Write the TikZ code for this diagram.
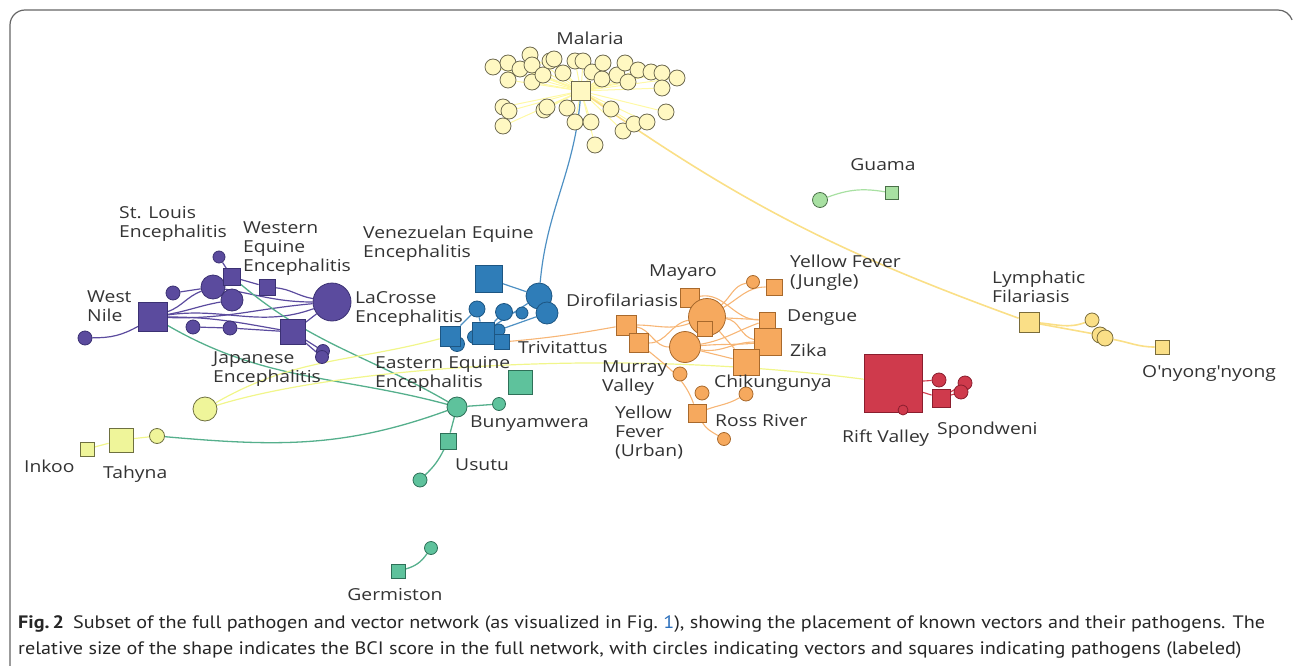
\documentclass[tikz,border=0pt]{standalone}
\usepackage{fontspec}
\newfontfamily\lblfont[FakeStretch=1.17]{Open Sans}
\newfontfamily\capfont[FakeStretch=1.12]{PT Sans}
\usetikzlibrary{positioning}
\pgfdeclarelayer{background}
\pgfsetlayers{background,main}
\definecolor{purp}{HTML}{5B4B9E}
\definecolor{purpd}{HTML}{3B3173}
\definecolor{blu}{HTML}{2F7DB8}
\definecolor{blud}{HTML}{1D5683}
\definecolor{orng}{HTML}{F6A95E}
\definecolor{orngd}{HTML}{A8692C}
\definecolor{rd}{HTML}{CF3A4C}
\definecolor{rdd}{HTML}{8A1E2E}
\definecolor{malf}{HTML}{FFF8C2}
\definecolor{mald}{HTML}{6E6A50}
\definecolor{lymf}{HTML}{FADF87}
\definecolor{lymd}{HTML}{7A6C3A}
\definecolor{teal}{HTML}{5EC29C}
\definecolor{teald}{HTML}{2E7058}
\definecolor{tahf}{HTML}{EFF59A}
\definecolor{tahd}{HTML}{6E7040}
\definecolor{guaf}{HTML}{A8E0A2}
\definecolor{guad}{HTML}{4A7048}
\definecolor{lbltext}{HTML}{333333}
\definecolor{linkblue}{HTML}{2A6EBB}

\begin{document}
\begin{tikzpicture}[x=1pt,y=-1pt,
    vec/.style={circle,draw,inner sep=0pt,line width=0.8pt},
    pat/.style={rectangle,draw,inner sep=0pt,line width=0.8pt},
    lbl/.style={font=\lblfont\fontsize{16.5}{19}\selectfont,text=lbltext,align=left,inner sep=0pt},
    pu/.style={fill=purp,draw=purpd},
    bl/.style={fill=blu,draw=blud},
    or/.style={fill=orng,draw=orngd},
    re/.style={fill=rd,draw=rdd},
    ma/.style={fill=malf,draw=mald},
    ly/.style={fill=lymf,draw=lymd},
    te/.style={fill=teal,draw=teald},
    ta/.style={fill=tahf,draw=tahd},
    gu/.style={fill=guaf,draw=guad},
    pe/.style={draw=purp,line width=1.2pt},
    be/.style={draw=blu!85,line width=1.2pt},
    oe/.style={draw=orng!85,line width=1.1pt},
    re edge/.style={draw=rd,line width=1.1pt},
    me/.style={draw=malf!85!yellow,line width=1pt},
    le/.style={draw=lymf,line width=1.6pt},
    tee/.style={draw=teal!90!black,line width=1.3pt},
    tae/.style={draw=tahf!90!yellow,line width=1.2pt},
    ge/.style={draw=guaf,line width=1.2pt}]

  \useasboundingbox (0,0) rectangle (1295,666);
  \draw[gray!80!black,line width=1.2pt] (10,700) -- (10,25) arc(180:270:15) -- (1278,10) arc(-90:-20:15);

  % malaria
  \node[pat,ma,minimum size=19pt] (malaria) at (581,91) {};
  \foreach \x/\y [count=\i] in {493/67,508/63,508/80,520/69,530/55,532/65,532/82,543/75,550/61,554/59,
      563/73,575/61,583/61,592/72,602/79,603/63,617/75,625/63,628/82,638/70,651/72,662/73,662/88,677/78,
      503/107,509/111,503/126,544/110,547/107,567/108,575/122,591/122,611/109,623/131,634/124,647/122,666/112,595/145}
    \node[vec,ma,minimum size=16pt] (m\i) at (\x,\y) {};
  \node[lbl] (malarialbl) at (590,38) {Malaria};

  % guama
  \node[vec,gu,minimum size=15pt] (guac) at (820,200) {};
  \node[pat,gu,minimum size=13pt] (guama) at (892,193) {};
  \node[lbl] (guamalbl) at (883,165) {Guama};

  % purple
  \node[pat,pu,minimum size=29pt] (wn) at (153,317) {};
  \node[vec,pu,minimum size=14pt] (p1) at (85,338) {};
  \node[vec,pu,minimum size=14pt] (p2) at (173,293) {};
  \node[vec,pu,minimum size=24pt] (p3) at (213,287) {};
  \node[vec,pu,minimum size=22pt] (p4) at (232,300) {};
  \node[vec,pu,minimum size=12pt] (p5) at (219,257) {};
  \node[pat,pu,minimum size=17pt] (sle) at (232,277) {};
  \node[pat,pu,minimum size=16pt] (wee) at (267,287) {};
  \node[vec,pu,minimum size=38pt] (lac) at (332,302) {};
  \node[pat,pu,minimum size=25pt] (jap) at (293,332) {};
  \node[vec,pu,minimum size=14pt] (p6) at (193,327) {};
  \node[vec,pu,minimum size=14pt] (p7) at (230,328) {};
  \node[vec,pu,minimum size=13pt] (p8) at (323,351) {};
  \node[vec,pu,minimum size=13pt] (p9) at (322,357) {};
  \node[lbl,anchor=north west] (slelbl) at (119,206) {St. Louis\\Encephalitis};
  \node[lbl,anchor=north west] (weelbl) at (243,222) {Western\\Equine\\Encephalitis};
  \node[lbl,anchor=north west] (wnlbl) at (87,291) {West\\Nile};
  \node[lbl,anchor=north west] (laclbl) at (355,291) {LaCrosse\\Encephalitis};
  \node[lbl,anchor=north west] (japlbl) at (213,352) {Japanese\\Encephalitis};

  % blue
  \node[pat,bl,minimum size=27pt] (vee) at (489,279) {};
  \node[vec,bl,minimum size=26pt] (b1) at (539,296) {};
  \node[vec,bl,minimum size=22pt] (b2) at (547,313) {};
  \node[vec,bl,minimum size=16pt] (b3) at (477,309) {};
  \node[vec,bl,minimum size=17pt] (b4) at (504,312) {};
  \node[vec,bl,minimum size=12pt] (b5) at (522,313) {};
  \node[vec,bl,minimum size=15pt] (b6) at (457,344) {};
  \node[vec,bl,minimum size=13pt] (b7) at (474,337) {};
  \node[vec,bl,minimum size=12pt] (b8) at (499,330) {};
  \node[pat,bl,minimum size=20pt] (eee) at (450,336) {};
  \node[pat,bl,minimum size=22pt] (b9) at (483,333) {};
  \node[pat,bl,minimum size=15pt] (triv) at (502,342) {};
  \node[lbl,anchor=north west] (veelbl) at (363,226) {Venezuelan Equine\\Encephalitis};
  \node[lbl,anchor=north west] (eeelbl) at (375,356) {Eastern Equine\\Encephalitis};
  \node[lbl,anchor=west] (trivlbl) at (518,348) {Trivitattus};

  % orange
  \node[pat,or,minimum size=19pt] (mayaro) at (690,298) {};
  \node[vec,or,minimum size=37pt] (o1) at (707,317) {};
  \node[pat,or,minimum size=15pt] (o2) at (705,329) {};
  \node[vec,or,minimum size=31pt] (o3) at (685,347) {};
  \node[pat,or,minimum size=20pt] (diro) at (626,325) {};
  \node[pat,or,minimum size=19pt] (mv) at (639,343) {};
  \node[vec,or,minimum size=13pt] (o4) at (753,282) {};
  \node[pat,or,minimum size=16pt] (yfj) at (774,287) {};
  \node[pat,or,minimum size=16pt] (dengue) at (767,320) {};
  \node[pat,or,minimum size=27pt] (zika) at (768,342) {};
  \node[pat,or,minimum size=26pt] (chik) at (746,362) {};
  \node[vec,or,minimum size=14pt] (o5) at (680,374) {};
  \node[vec,or,minimum size=14pt] (o6) at (702,393) {};
  \node[vec,or,minimum size=14pt] (o7) at (746,394) {};
  \node[pat,or,minimum size=18pt] (yfu) at (697,413) {};
  \node[vec,or,minimum size=13pt] (o8) at (724,439) {};
  \node[lbl] (mayarolbl) at (683,273) {Mayaro};
  \node[lbl,anchor=west] (dirolbl) at (566,300) {Dirofilariasis};
  \node[lbl,anchor=north west] (yfjlbl) at (790,255) {Yellow Fever\\(Jungle)};
  \node[lbl,anchor=west] (denguelbl) at (787,318) {Dengue};
  \node[lbl,anchor=west] (zikalbl) at (790,350) {Zika};
  \node[lbl,anchor=west] (chiklbl) at (714,383) {Chikungunya};
  \node[lbl,anchor=north west] (mvlbl) at (602,361) {Murray\\Valley};
  \node[lbl,anchor=north west] (yfulbl) at (615,406) {Yellow\\Fever\\(Urban)};
  \node[lbl,anchor=west] (rrlbl) at (715,421) {Ross River};

  % red
  \node[pat,re,minimum size=58pt] (rv) at (893,383) {};
  \node[vec,re,minimum size=10pt] (r0) at (903,410) {};
  \node[vec,re,minimum size=14pt] (r1) at (939,380) {};
  \node[pat,re,minimum size=18pt] (spond) at (941,398) {};
  \node[vec,re,minimum size=14pt] (r2) at (965,383) {};
  \node[vec,re,minimum size=14pt] (r3) at (961,392) {};
  \node[lbl,anchor=west] (rvlbl) at (842,438) {Rift Valley};
  \node[lbl,anchor=west] (spondlbl) at (937,430) {Spondweni};

  % lymphatic
  \node[pat,ly,minimum size=20pt] (lf) at (1029,322) {};
  \node[vec,ly,minimum size=14pt] (l1) at (1092,320) {};
  \node[vec,ly,minimum size=16pt] (l2) at (1100,335) {};
  \node[vec,ly,minimum size=16pt] (l3) at (1105,338) {};
  \node[pat,ly,minimum size=14pt] (onn) at (1162,347) {};
  \node[lbl,anchor=north west] (lflbl) at (992,271) {Lymphatic\\Filariasis};
  \node[lbl,anchor=west] (onnlbl) at (1142,373) {O'nyong'nyong};

  % teal
  \node[vec,te,minimum size=20pt] (bun) at (457,407) {};
  \node[pat,te,minimum size=24pt] (t1) at (520,382) {};
  \node[vec,te,minimum size=13pt] (t2) at (499,404) {};
  \node[pat,te,minimum size=16pt] (usutu) at (448,441) {};
  \node[vec,te,minimum size=14pt] (t3) at (420,480) {};
  \node[pat,te,minimum size=14pt] (germ) at (398,571) {};
  \node[vec,te,minimum size=13pt] (t4) at (431,548) {};
  \node[lbl,anchor=west] (bunlbl) at (470,424) {Bunyamwera};
  \node[lbl,anchor=west] (usutulbl) at (455,465) {Usutu};
  \node[lbl] (germlbl) at (395,595) {Germiston};

  % tahyna
  \node[pat,ta,minimum size=14pt] (inkoo) at (87,449) {};
  \node[pat,ta,minimum size=24pt] (tahyna) at (121,440) {};
  \node[vec,ta,minimum size=15pt] (a1) at (157,436) {};
  \node[vec,ta,minimum size=24pt] (a2) at (205,409) {};
  \node[lbl,anchor=west] (inkoolbl) at (24,466) {Inkoo};
  \node[lbl,anchor=west] (tahynalbl) at (103,474) {Tahyna};

  % caption
  \node[anchor=base west,inner sep=0pt,font=\capfont\fontsize{18}{20}\selectfont,text=black!85] (cap1) at (18,628)
    {\textbf{Fig.\,2}\enspace Subset of the full pathogen and vector network (as visualized in Fig.~\textcolor{linkblue}{1}), showing the placement of known vectors and their pathogens. The};
  \node[anchor=base west,inner sep=0pt,font=\capfont\fontsize{18}{20}\selectfont,text=black!85] (cap2) at (18,654)
    {relative size of the shape indicates the BCI score in the full network, with circles indicating vectors and squares indicating pathogens (labeled)};

  \begin{pgfonlayer}{background}
    \foreach \i in {1,...,38} \path (malaria) edge[me] (m\i);
    \path (malaria) edge[be,out=-95,in=85] (b1)
          (malaria) edge[le,out=-35,in=160] (lf)
          (guac) edge[ge,bend left=15] (guama);
    % purple
    \path (wn) edge[pe,bend left=15] (p1)
          (wn) edge[pe,out=20,in=200] (p3)
          (wn) edge[pe,out=10,in=190] (p4)
          (wn) edge[pe,out=8,in=200] (lac)
          (wn) edge[pe,out=-2,in=185] (lac)
          (wn) edge[pe,out=0,in=170] (jap)
          (p2) edge[pe] (p3)
          (p6) edge[pe] (p7)
          (p7) edge[pe] (jap)
          (p5) edge[pe] (sle)
          (sle) edge[pe] (wee)
          (sle) edge[pe] (p3)
          (wee) edge[pe,out=-5,in=170] (lac)
          (p3) edge[pe,out=-10,in=180] (lac)
          (jap) edge[pe] (lac)
          (jap) edge[pe] (p8)
          (jap) edge[pe] (p9);
    % teal
    \path (wn) edge[tee,out=-30,in=165] (bun)
          (sle) edge[tee,out=-40,in=150] (bun)
          (a1) edge[tee,out=-5,in=200] (bun)
          (bun) edge[tee] (usutu)
          (usutu) edge[tee,bend left=10] (t3)
          (bun) edge[tee] (t2)
          (germ) edge[tee,bend right=20] (t4);
    % blue
    \path (vee) edge[be] (b1)
          (b1) edge[be] (b9)
          (b2) edge[be] (b8)
          (b3) edge[be] (eee)
          (b3) edge[be] (b9)
          (b4) edge[be] (b9)
          (b5) edge[be] (b4)
          (b6) edge[be] (eee)
          (b7) edge[be] (triv)
          (b9) edge[be] (triv);
    % tahyna
    \path (inkoo) edge[tae] (tahyna)
          (tahyna) edge[tae] (a1)
          (a2) edge[tae,out=30,in=195] (eee);
    \draw[tae] (a2) .. controls (330,370) and (600,345) .. (rv);
    % orange
    \path (triv) edge[oe,out=5,in=190] (diro)
          (diro) edge[oe,out=0,in=200] (o1)
          (diro) edge[oe,out=-10,in=180] (o3)
          (mv) edge[oe,out=0,in=190] (o1)
          (mv) edge[oe,out=-40,in=110] (yfu)
          (mayaro) edge[oe] (o1)
          (mayaro) edge[oe,out=10,in=180] (dengue)
          (o1) edge[oe,out=40,in=190] (o4)
          (o1) edge[oe,out=30,in=180] (yfj)
          (o1) edge[oe] (dengue)
          (o1) edge[oe,out=-5,in=170] (zika)
          (o1) edge[oe] (chik)
          (o3) edge[oe,out=10,in=200] (dengue)
          (o3) edge[oe,out=5,in=185] (zika)
          (o3) edge[oe] (chik)
          (o3) edge[oe,out=-10,in=180] (zika)
          (yfu) edge[oe,out=20,in=210] (o7)
          (yfu) edge[oe,out=-60,in=150] (o8);
    % red
    \path (rv) edge[re edge] (r1)
          (rv) edge[re edge] (spond)
          (spond) edge[re edge] (r2)
          (spond) edge[re edge] (r3);
    % lymphatic
    \path (lf) edge[le,out=-5,in=200] (l1)
          (lf) edge[le] (l2)
          (l3) edge[le,out=-10,in=180] (onn);
  \end{pgfonlayer}
\end{tikzpicture}
\end{document}
